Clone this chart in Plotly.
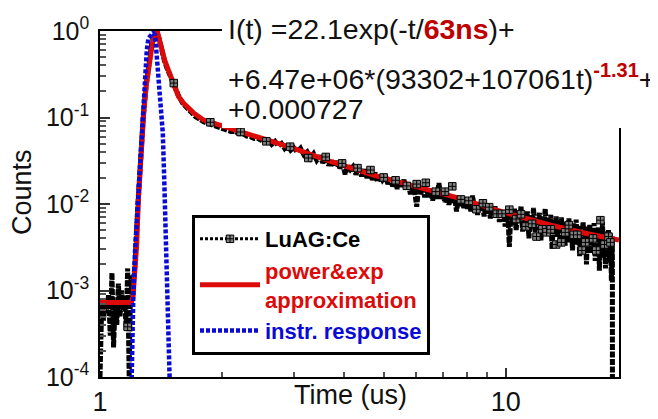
import plotly.graph_objects as go

FONT = "Liberation Sans, Arial, sans-serif"

# ---- measured decay (LuAG:Ce), time in us ----
t_data = [1.00, 1.01, 1.02, 1.03, 1.04, 1.05, 1.06, 1.07, 1.08, 1.09, 1.10, 1.11, 1.12, 1.13, 1.14,
          1.15, 1.16, 1.17, 1.18, 1.19, 1.20,
          1.22, 1.24, 1.26, 1.28, 1.30, 1.32, 1.34, 1.36, 1.38, 1.40, 1.42, 1.44, 1.46, 1.48, 1.50,
          1.53, 1.56, 1.60, 1.64, 1.68, 1.72, 1.76, 1.80, 1.85, 1.90, 1.95, 2.00, 2.05, 2.10, 2.15,
          2.20, 2.25, 2.30, 2.35, 2.40, 2.45, 2.50,
          2.55, 2.60, 2.65, 2.70, 2.75, 2.80, 2.85, 2.90, 2.95, 3.00, 3.06, 3.12, 3.18, 3.24, 3.30,
          3.36, 3.42, 3.48, 3.54, 3.60, 3.66, 3.72, 3.78, 3.84, 3.90, 3.96, 4.02, 4.08, 4.14, 4.20,
          4.27, 4.34, 4.41, 4.48, 4.55, 4.62, 4.69, 4.76, 4.83, 4.90, 4.97,
          5.05, 5.12, 5.19, 5.26, 5.33, 5.40, 5.47, 5.54, 5.61, 5.68, 5.75, 5.82, 5.89, 5.96, 6.03,
          6.10, 6.17, 6.24, 6.31, 6.38, 6.45, 6.52, 6.60, 6.68, 6.76, 6.84, 6.92, 7.00, 7.08, 7.16,
          7.24, 7.32, 7.40, 7.48, 7.56, 7.64, 7.72, 7.80, 7.88, 7.96, 8.04, 8.12, 8.20, 8.28, 8.36,
          8.44, 8.52, 8.60, 8.68, 8.76, 8.84, 8.92, 9.00, 9.08, 9.16, 9.24, 9.32, 9.40, 9.48, 9.56,
          9.64, 9.72, 9.80, 9.88, 9.96,
          10.0, 10.1, 10.2, 10.3, 10.4, 10.5, 10.6, 10.7, 10.8, 10.9, 11.0, 11.1, 11.2, 11.3, 11.4,
          11.5, 11.6, 11.7, 11.8, 11.9, 12.0, 12.1, 12.2, 12.3, 12.4, 12.5, 12.6, 12.7, 12.8, 12.9,
          13.0, 13.1, 13.2, 13.3, 13.4, 13.5, 13.6, 13.7, 13.8, 13.9, 14.0, 14.1, 14.2, 14.3, 14.4,
          14.5, 14.6, 14.7, 14.8, 14.9, 15.0, 15.1, 15.2, 15.3, 15.4, 15.5, 15.6, 15.7, 15.8, 15.9,
          16.0, 16.1, 16.2, 16.3, 16.4, 16.5, 16.6, 16.7, 16.8, 16.9, 17.0, 17.1, 17.2, 17.3, 17.4,
          17.5, 17.6, 17.7, 17.8, 17.9, 18.0, 18.1, 18.2, 18.3, 18.31]
counts = [1.0e-4, 6.8e-4, 4.5e-4, 8.0e-4, 5.5e-4, 9.0e-4, 3.0e-4, 1.6e-3, 2.2e-4, 7.5e-4, 4.0e-4,
          1.2e-3, 5.0e-4, 1.0e-3, 6.0e-4, 8.5e-4, 3.5e-4, 1.8e-3, 1.0e-4, 1.5e-3, 9.0e-4,
          2.0e-3, 1.0e-2, 4.0e-2, 0.11, 0.24, 0.45, 0.70, 0.90, 1.0, 0.80, 0.58, 0.46, 0.38, 0.32, 0.27,
          0.22, 0.18, 0.145, 0.128, 0.115, 0.102, 0.096, 0.089, 0.085, 0.081, 0.078, 0.074, 0.073,
          0.069, 0.069, 0.065, 0.065, 0.061, 0.060, 0.057, 0.057, 0.054,
          0.052, 0.056, 0.049, 0.053, 0.047, 0.050, 0.044, 0.048, 0.042, 0.045, 0.040, 0.044, 0.037,
          0.040, 0.034, 0.038, 0.032, 0.036, 0.030, 0.034, 0.028, 0.032, 0.027, 0.031, 0.026, 0.029,
          0.022, 0.028, 0.025, 0.027, 0.022, 0.026, 0.021, 0.025, 0.020, 0.024, 0.019, 0.023, 0.018,
          0.022, 0.019,
          0.021, 0.017, 0.020, 0.016, 0.019, 0.015, 0.018, 0.016, 0.019, 0.015, 0.017, 0.013, 0.016,
          0.014, 0.0093, 0.016, 0.013, 0.0155, 0.012, 0.015, 0.012, 0.0145, 0.011, 0.0135, 0.0115,
          0.0175, 0.0115, 0.013, 0.0105, 0.0125, 0.0098, 0.0122, 0.0105, 0.0118, 0.0082, 0.0115,
          0.0095, 0.0118, 0.0090, 0.0112, 0.0088, 0.0108, 0.0082, 0.0125, 0.0090, 0.0102, 0.0075,
          0.0098, 0.0082, 0.0100, 0.0072, 0.0096, 0.0078, 0.0093, 0.0068, 0.0090, 0.0074, 0.0094,
          0.0070, 0.0086, 0.0062, 0.0084, 0.0070, 0.0080, 0.0055,
          0.0060, 0.0092, 0.0032, 0.0085, 0.0058, 0.0088, 0.0050, 0.0080, 0.0062, 0.0095, 0.0048,
          0.0078, 0.0055, 0.0082, 0.0040, 0.0074, 0.0052, 0.0090, 0.0047, 0.0070, 0.0058, 0.0079,
          0.0038, 0.0070, 0.0050, 0.0088, 0.0044, 0.0068, 0.0049, 0.0075, 0.0030, 0.0066, 0.0045,
          0.0072, 0.0041, 0.0064, 0.0037, 0.0070, 0.0046, 0.0060, 0.0033, 0.0062, 0.0042, 0.0068,
          0.0036, 0.0058, 0.0029, 0.0060, 0.0040, 0.0066, 0.0034, 0.0056, 0.0025, 0.0052, 0.0038,
          0.0062, 0.0031, 0.0055, 0.0020, 0.0050, 0.0036, 0.0058, 0.0027, 0.0052, 0.0033, 0.0060,
          0.0022, 0.0049, 0.0030, 0.0054, 0.0017, 0.0047, 0.0028, 0.0062, 0.0024, 0.0048, 0.0018,
          0.0044, 0.0030, 0.0050, 0.0021, 0.0045, 0.0013, 0.0042, 1.0e-5]

# ---- subset of measured points carrying the square markers ----
t_mark = [1.17, 1.52, 1.87, 2.22, 2.57, 2.94, 3.26, 3.60, 3.95, 4.31, 4.64, 5.00, 5.35, 5.70, 6.03,
          6.35, 6.72, 7.08, 7.38, 7.75, 8.10, 8.46, 8.78, 9.10, 9.50, 9.78, 10.2, 10.6, 10.9, 11.2,
          11.6, 11.9, 12.3, 12.6, 12.9, 13.3, 13.7, 14.0, 14.3, 14.7, 15.0, 15.4, 15.7, 16.4, 16.7,
          17.1, 17.5, 17.9, 18.1]
v_mark = [3.8e-4, 0.25, 0.088, 0.068, 0.053, 0.046, 0.034, 0.035, 0.0295, 0.026, 0.0247, 0.0203,
          0.0188, 0.0162, 0.017, 0.0176, 0.0139, 0.0139, 0.0160, 0.0113, 0.0109, 0.0087, 0.0102,
          0.0092, 0.0077, 0.0077, 0.0086, 0.0067, 0.0076, 0.0055, 0.0059, 0.0042, 0.0051, 0.0047,
          0.0051, 0.0034, 0.0036, 0.0047, 0.0057, 0.0044, 0.0044, 0.0029, 0.0036, 0.0040, 0.0029,
          0.0065, 0.0034, 0.0042, 0.0036]

# ---- power & exp approximation ----
t_fit = [1.0, 1.195, 1.206, 1.22, 1.232, 1.243, 1.26, 1.279, 1.298, 1.316, 1.33, 1.344, 1.36,
         1.372, 1.383, 1.40, 1.42, 1.445, 1.474, 1.517, 1.561, 1.605, 1.668, 1.70, 1.795, 1.868,
         2.0, 2.217, 2.58, 3.0, 3.7, 4.72, 6.05, 7.5, 9.72, 12.9, 16.0, 19.0]
fit = [7.27e-4, 7.27e-4, 8.5e-4, 1.8e-3, 3.5e-3, 1.1e-2, 3.5e-2, 0.10, 0.22, 0.38, 0.53, 0.69,
       0.88, 0.97, 1.0, 0.80, 0.60, 0.45, 0.353, 0.25, 0.175, 0.147, 0.125, 0.113, 0.094, 0.088,
       0.079, 0.0685, 0.055, 0.044, 0.031, 0.0216, 0.0158, 0.0120, 0.0082, 0.0057, 0.0045, 0.00382]

# ---- instrument response ----
t_irf = [1.196, 1.197, 1.208, 1.22, 1.241, 1.268, 1.279, 1.291, 1.304, 1.317, 1.336, 1.352, 1.367,
         1.393, 1.406, 1.42, 1.428, 1.439, 1.451, 1.463, 1.474, 1.489, 1.49]
irf = [5e-5, 1e-4, 8.4e-4, 2.9e-3, 1.1e-2, 0.066, 0.147, 0.354, 0.60, 0.83, 0.92, 0.95, 0.90,
       0.33, 0.21, 0.122, 0.066, 0.021, 5e-3, 1e-3, 2e-4, 1e-4, 5e-5]

y_tickvals = [1e-4, 1e-3, 1e-2, 1e-1, 1]
y_ticktext = ["10<sup>-4</sup>", "10<sup>-3</sup>", "10<sup>-2</sup>", "10<sup>-1</sup>", "10<sup>0</sup>"]
x_tickvals = [1, 10]
x_ticktext = ["1", "10"]

BLACK = "#000000"
RED = "#dd0a0a"
BLUE = "#0a0ad6"
DARKRED = "#c00000"
MARK = dict(symbol="square-cross", size=7.5, color="#808080", line=dict(color="#000000", width=1))

fig = go.Figure()
fig.add_trace(go.Scatter(x=t_data, y=counts, mode="lines", showlegend=False,
                         line=dict(color=BLACK, width=5, dash="6px,1.5px")))
fig.add_trace(go.Scatter(x=t_fit, y=fit, mode="lines", legendrank=2,
                         name="<span style='color:%s'>power&amp;exp<br>approximation</span>" % RED,
                         line=dict(color=RED, width=5)))
fig.add_trace(go.Scatter(x=t_irf, y=irf, mode="lines", legendrank=3,
                         name="<span style='color:%s'>instr. response</span>" % BLUE,
                         line=dict(color=BLUE, width=4.5, dash="4px,2px")))
fig.add_trace(go.Scatter(x=t_mark, y=v_mark, mode="markers", showlegend=False, marker=MARK))
fig.add_trace(go.Scatter(x=[None], y=[None], mode="lines+markers", legendrank=1,
                         name="LuAG:Ce",
                         line=dict(color=BLACK, width=3, dash="3px,2px"), marker=MARK))

# page geometry (browser body adds an 8px offset)
OFF = 8
PW, PH = 658, 419
W, H = PW - OFF, PH - OFF
L, R, T, B = 100, 619, 31, 377   # plot area in page pixels
pw, ph = R - L, B - T


def px(x):
    return (x - L) / pw


def py(y):
    return (B - y) / ph


ANN_FONT = dict(family=FONT, size=28.5, color="#111")

fig.update_layout(
    width=W, height=H,
    margin=dict(l=L - OFF, r=PW - R, t=T - OFF, b=PH - B, pad=0, autoexpand=False),
    paper_bgcolor="white", plot_bgcolor="white",
    font=dict(family=FONT, color="#111111"),
    showlegend=True,
    legend=dict(x=px(192), y=py(215), xanchor="left", yanchor="top",
                bgcolor="white", bordercolor="black", borderwidth=3,
                font=dict(family=FONT, size=22, color="black", weight="bold"),
                itemwidth=60, tracegroupgap=0),
    xaxis=dict(type="log", range=[0, 1.2788], showgrid=False, zeroline=False,
               showline=True, linecolor="black", linewidth=1.5, mirror=True,
               tickmode="array", tickvals=x_tickvals, ticktext=x_ticktext,
               ticks="inside", ticklen=9, tickwidth=1.5, tickcolor="#333",
               tickfont=dict(family=FONT, size=27, color="#111"), ticklabelstandoff=0,
               minor=dict(ticks="inside", ticklen=5, tickwidth=1.5, tickcolor="#555",
                          dtick="D1", showgrid=False)),
    yaxis=dict(type="log", range=[-4, 0], showgrid=False, zeroline=False,
               showline=True, linecolor="black", linewidth=1.5, mirror=True,
               tickmode="array", tickvals=y_tickvals, ticktext=y_ticktext,
               ticks="inside", ticklen=10, tickwidth=1.5, tickcolor="#333",
               tickfont=dict(family=FONT, size=25, color="#111"), ticklabelstandoff=4,
               minor=dict(ticks="inside", ticklen=6, tickwidth=1.5, tickcolor="#555",
                          dtick="D1", showgrid=False)),
    shapes=[dict(type="rect", xref="paper", yref="paper", x0=px(222), x1=1.2,
                 y0=py(128), y1=1.2, fillcolor="white", line=dict(width=0), layer="above")],
    annotations=[
        dict(xref="paper", yref="paper", x=px(226), y=py(29), xanchor="left", yanchor="middle",
             showarrow=False, font=ANN_FONT,
             text="I(t) =22.1exp(-t/<b><span style='color:%s'>63ns</span></b>)+" % DARKRED),
        dict(xref="paper", yref="paper", x=px(226), y=py(77), xanchor="left", yanchor="middle",
             showarrow=False, font=ANN_FONT,
             text="+6.47e+06*(93302+107061t)<sup><b><span style='color:%s'>-1.31</span></b></sup>+" % DARKRED),
        dict(xref="paper", yref="paper", x=px(226), y=py(109), xanchor="left", yanchor="middle",
             showarrow=False, font=ANN_FONT, text="+0.000727"),
        dict(xref="paper", yref="paper", x=px(350), y=py(395), xanchor="center", yanchor="middle",
             showarrow=False, font=dict(family=FONT, size=27, color="#111"), text="Time (us)"),
        dict(xref="paper", yref="paper", x=px(22), y=py(192), xanchor="center", yanchor="middle",
             showarrow=False, textangle=-90, font=dict(family=FONT, size=27, color="#111"),
             text="Counts"),
    ],
)

fig.write_html("out.html")
